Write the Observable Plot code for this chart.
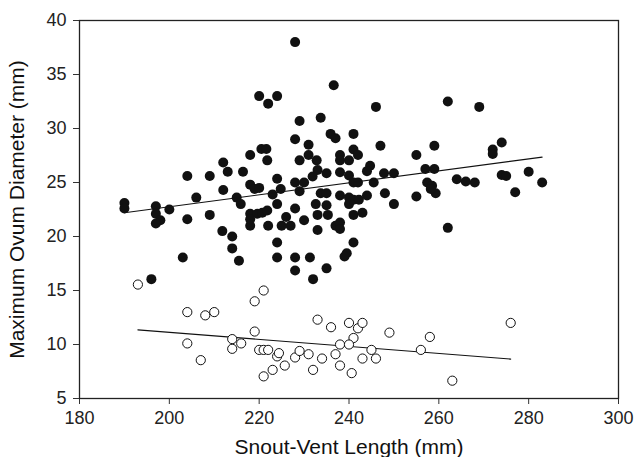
<!DOCTYPE html>
<html><head><meta charset="utf-8">
<script src="https://cdn.jsdelivr.net/npm/d3@7"></script>
<script src="https://cdn.jsdelivr.net/npm/@observablehq/plot@0.6"></script>
<style>body{margin:0;background:#fff}</style>
</head><body><div id="chart"></div>
<script>
// [snout-vent length (mm), maximum ovum diameter (mm)]
const filledPoints = [
[220,33.0],[220.5,28.1],[221.6,28.1],[218,27.55],[212,26.85],[204,25.6],[209,25.6],[213,26.0],[216.4,26.0],
[218,24.8],[219,24.4],[212,24.3],[206,23.6],[215,23.6],[190,23.1],[190,22.6],[228,38.0],[236.6,34.0],
[222,32.3],[224,33.0],[246,32.0],[229,30.7],[233.7,31.0],[228,29.0],[235.9,29.5],[237,29.1],[241,29.5],
[231,28.5],[247,28.4],[259,28.4],[221.8,27.05],[231,27.55],[232.8,27.05],[238,27.55],[241,28.05],[242,27.55],
[240,27.05],[255,27.55],[229,27.05],[238,27.05],[244.7,26.55],[244,26.05],[233,26.15],[235,25.85],[247.8,25.85],
[250,25.85],[257,26.25],[259,26.25],[224,25.35],[231.9,25.55],[238,25.95],[240,25.65],[220,24.5],[224.8,24.4],
[228,25.0],[230,25.0],[241,25.0],[242,25.0],[245.5,25.0],[257.4,25.0],[258.5,24.7],[229,24.2],[223,23.9],
[233.7,24.0],[235,24.0],[238,23.8],[240,23.6],[244,23.8],[248,24.0],[255,23.7],[259.3,24.0],[262,32.5],
[269,32.0],[274,28.7],[272,28.05],[272,27.65],[264,25.3],[266,25.1],[268,25.0],[274,25.7],[275,25.6],
[280,26.0],[283,25.0],[277,24.1],[262,20.8],[258.2,24.4],[197,22.8],[197,22.1],[198,21.5],[197,21.2],
[200,22.5],[204,21.6],[209,22.0],[215.9,23.0],[218,22.1],[218,21.0],[219.6,22.1],[211.8,20.5],[214,20.0],
[214,18.9],[215.5,17.75],[203,18.05],[196,16.05],[218,21.6],[220.7,22.2],[221.8,22.4],[222,21.0],[224,23.0],
[226,21.8],[227,21.0],[225,21.0],[228,22.6],[230,21.5],[232.6,23.0],[233,22.0],[235,22.9],[235.3,22.0],
[233,20.6],[237,21.0],[238,21.3],[238,20.7],[240,23.0],[241,23.4],[242.2,23.4],[241,22.0],[243,22.2],
[250,23.0],[224,19.45],[241,19.45],[224,18.05],[228,18.05],[231.3,18.05],[239.5,18.45],[239,18.15],
[228,16.85],[235,17.05],[232,16.05]
];
const openPoints = [
[193,15.55],[204,13.0],[208,12.7],[210,13.0],[204,10.1],[207,8.55],[214,10.5],[214,9.6],[216,10.1],
[219,14.0],[221,15.0],[219,11.2],[220,9.5],[221,9.5],[222,9.5],[224,8.9],[224.4,9.2],[223,7.65],[221,7.05],
[225.7,8.05],[228,8.8],[229,9.4],[231,9.1],[234,8.7],[232,7.65],[237,9.1],[238,8.05],[240.6,7.35],[243,8.7],
[245,9.5],[246,8.7],[256,9.5],[263,6.65],[233,12.3],[236,11.6],[240,12.0],[242,11.5],[243,12.0],[241,10.6],
[238,10.0],[240,10.0],[249,11.1],[258,10.7],[276,12.0]
];
// fitted regression lines: [x, y] at each end
const fitFilled = [[190,22.2],[283,27.35]];
const fitOpen = [[193,11.35],[276,8.65]];
const xTicks = [180,200,220,240,260,280,300];
const yTicks = [5,10,15,20,25,30,35,40];
const xTitle = "Snout-Vent Length (mm)";
const yTitle = "Maximum Ovum Diameter (mm)";

const font = "'Liberation Sans', Arial, Helvetica, sans-serif";
const chart = Plot.plot({
  width: 635, height: 457,
  marginLeft: 79, marginRight: 17, marginTop: 20, marginBottom: 59,
  style: {fontFamily: font, background: "#fff", color: "#222"},
  x: {domain: [180, 300], label: null},
  y: {domain: [5, 40], label: null},
  marks: [
    Plot.axisX({ticks: xTicks, tickSize: 6, tickPadding: 7, fontSize: 18, stroke: "#333", tickFormat: d => String(d), label: null}),
    Plot.axisY({ticks: yTicks, tickSize: 6, tickPadding: 7, fontSize: 18, stroke: "#333", tickFormat: d => String(d), label: null}),
    Plot.frame({stroke: "#222", strokeWidth: 1.3}),
    Plot.dot(filledPoints, {x: d => d[0], y: d => d[1], r: 5, fill: "#111", stroke: "none"}),
    Plot.line(fitFilled, {x: d => d[0], y: d => d[1], stroke: "#111", strokeWidth: 1.1}),
    Plot.line(fitOpen, {x: d => d[0], y: d => d[1], stroke: "#111", strokeWidth: 1.1}),
    Plot.dot(openPoints, {x: d => d[0], y: d => d[1], r: 4.6, fill: "#fff", stroke: "#111", strokeWidth: 1}),
    Plot.text([xTitle], {frameAnchor: "bottom", dy: 55, lineAnchor: "bottom", textAnchor: "middle", fontSize: 21, fill: "#111"}),
    Plot.text([yTitle], {frameAnchor: "left", dx: -62, rotate: -90, textAnchor: "middle", fontSize: 21, fill: "#111"})
  ]
});
document.getElementById("chart").appendChild(chart);
</script>
</body></html>
